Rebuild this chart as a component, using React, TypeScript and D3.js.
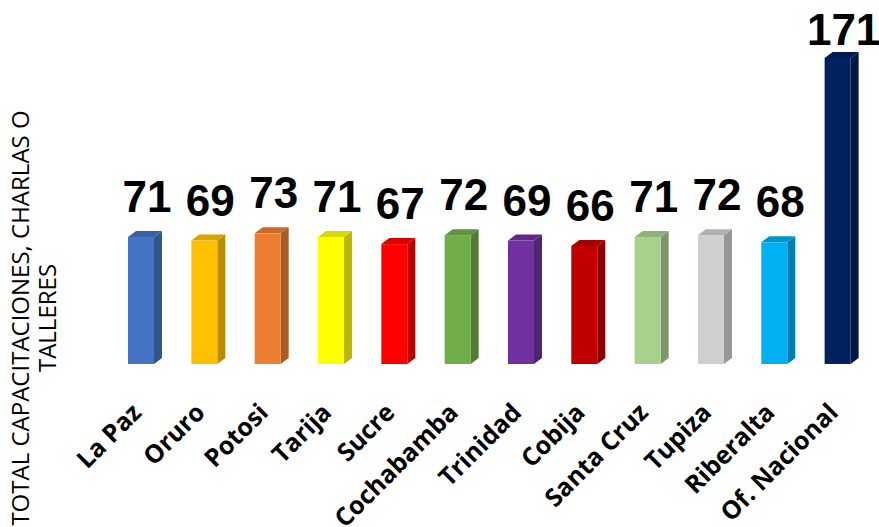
import React from "react";
import * as d3 from "d3";

const categories = ["La Paz", "Oruro", "Potosi", "Tarija", "Sucre", "Cochabamba", "Trinidad", "Cobija", "Santa Cruz", "Tupiza", "Riberalta", "Of. Nacional"];
const values = [71, 69, 73, 71, 67, 72, 69, 66, 71, 72, 68, 171];
const colors = ["#4472C4", "#FFC000", "#ED7D31", "#FFFF00", "#FF0000", "#70AD47", "#7030A0", "#C00000", "#A9D18E", "#D0CECE", "#00B0F0", "#002060"];
const yTitleLines = ["TOTAL CAPACITACIONES, CHARLAS O", "TALLERES"];

const W = 879;
const H = 527;
const baseY = 364;
const barW = 26;
const depthX = 8;
const depthY = 6;

export default function App() {
  const step = 63.33;
  const x0 = 141 - step / 2;
  const pInner = 1 - barW / step;
  const x = d3
    .scaleBand<string>()
    .domain(categories)
    .range([x0, x0 + step * categories.length])
    .paddingInner(pInner)
    .paddingOuter(pInner / 2);
  const y = d3.scaleLinear().domain([0, 171]).range([baseY, 58]);

  return (
    <svg
      width={W}
      height={H}
      style={{ position: "fixed", left: 0, top: 0, background: "#fff" }}
      viewBox={`0 0 ${W} ${H}`}
    >
      {categories.map((c, i) => {
        const xl = x(c) as number;
        const bw = x.bandwidth();
        const xr = xl + bw;
        const yt = y(values[i]);
        const col = d3.color(colors[i])!;
        const side = col.darker(0.9).formatHex();
        const top = col.darker(0.45).formatHex();
        const sidePath = d3.path();
        sidePath.moveTo(xr, yt);
        sidePath.lineTo(xr + depthX, yt - depthY);
        sidePath.lineTo(xr + depthX, baseY - depthY);
        sidePath.lineTo(xr, baseY);
        sidePath.closePath();
        const topPath = d3.path();
        topPath.moveTo(xl, yt);
        topPath.lineTo(xl + depthX, yt - depthY);
        topPath.lineTo(xr + depthX, yt - depthY);
        topPath.lineTo(xr, yt);
        topPath.closePath();
        const cx = xl + bw / 2;
        const labelY = Math.max(yt - 25, 45);
        return (
          <g key={c}>
            <path d={sidePath.toString()} fill={side} />
            <path d={topPath.toString()} fill={top} />
            <rect x={xl} y={yt} width={bw} height={baseY - yt} fill={colors[i]} />
            <text
              x={cx + 6}
              y={labelY}
              textAnchor="middle"
              fontFamily="'Liberation Sans', Arial, sans-serif"
              fontWeight="bold"
              fontSize={44}
              fill="#000"
            >
              {values[i]}
            </text>
            <text
              transform={`translate(${cx + 2},${baseY + 50}) rotate(-45)`}
              textAnchor="end"
              fontFamily="'Open Sans', sans-serif"
              fontWeight="bold"
              fontSize={25}
              fill="#000"
            >
              {c}
            </text>
          </g>
        );
      })}
      <text
        transform={`translate(29,318) rotate(-90)`}
        textAnchor="middle"
        fontFamily="'Open Sans', sans-serif"
        fontSize={24}
        fill="#000"
      >
        {yTitleLines.map((l, k) => (
          <tspan key={k} x={0} dy={k === 0 ? 0 : 27}>
            {l}
          </tspan>
        ))}
      </text>
    </svg>
  );
}
